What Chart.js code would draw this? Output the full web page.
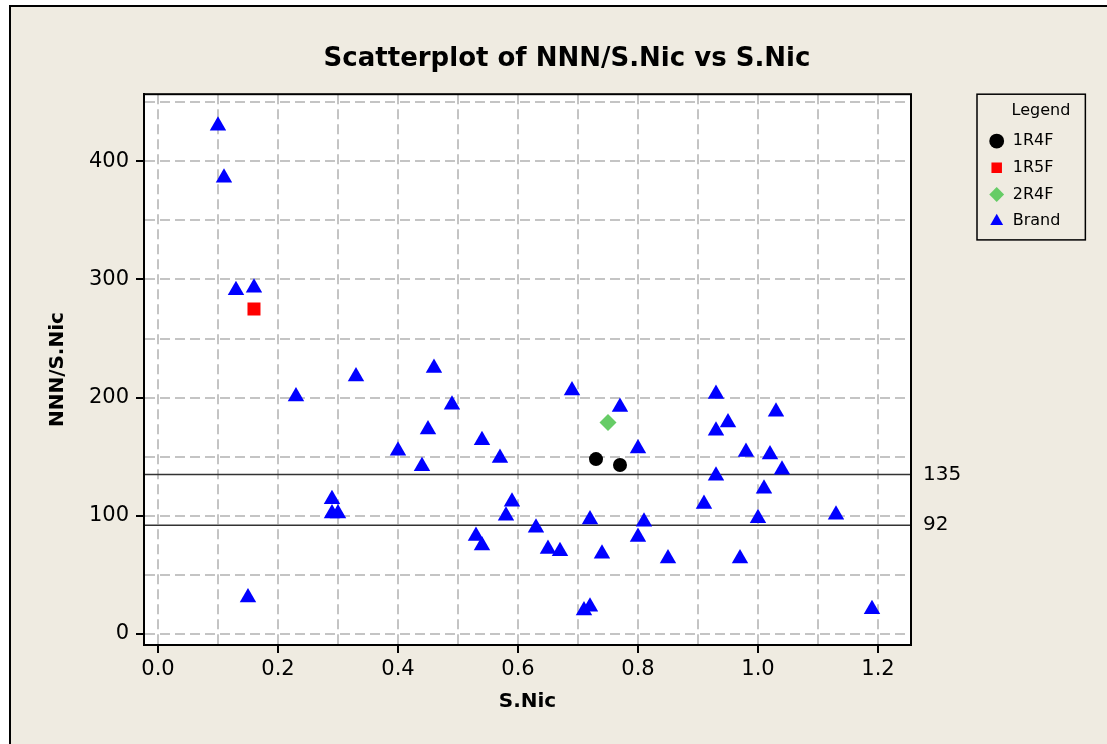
<!DOCTYPE html>
<html>
<head>
<meta charset="utf-8">
<title>Scatterplot of NNN/S.Nic vs S.Nic</title>
<script src="https://cdn.jsdelivr.net/npm/chart.js@4/dist/chart.umd.min.js"></script>
<style>
    html, body { margin: 0; padding: 0; background: #ffffff; }
    #wrap { position: relative; width: 1107px; height: 744px; }
</style>
</head>
<body>
<div id="wrap"><canvas id="scatter_chart"></canvas></div>
<script>
// series (S.Nic on x, NNN/S.Nic on y)
const seriesNames = ['1R4F', '1R5F', '2R4F', 'Brand'];

const r4fX = [0.73, 0.77];
const r4fY = [148, 143];

const r5fX = [0.16];
const r5fY = [275];

const r24fX = [0.75];
const r24fY = [179];

const brandX = [0.10, 0.11, 0.13, 0.15, 0.16, 0.23, 0.29, 0.29, 0.30, 0.33,
                0.40, 0.44, 0.45, 0.46, 0.49, 0.53, 0.54, 0.54, 0.57, 0.58,
                0.59, 0.63, 0.65, 0.67, 0.69, 0.71, 0.72, 0.72, 0.74, 0.77,
                0.80, 0.80, 0.81, 0.85, 0.91, 0.93, 0.93, 0.93, 0.95, 0.97,
                0.98, 1.00, 1.01, 1.02, 1.03, 1.04, 1.13, 1.19];
const brandY = [430, 386, 291, 31, 293, 201, 114, 102, 102, 218,
                155, 142, 173, 225, 194, 83, 75, 164, 149, 100,
                112, 90, 72, 70, 206, 20, 23, 97, 68, 192,
                157, 82, 95, 64, 110, 203, 172, 134, 179, 64,
                154, 98, 123, 152, 188, 139, 101, 21];

// reference lines
const refLines = [135, 92];

// axes
const xLabeled = [0.0, 0.2, 0.4, 0.6, 0.8, 1.0, 1.2];
const yLabeled = [0, 100, 200, 300, 400];
const xMin = -0.0233, xMax = 1.255, xStep = 0.1;
const yMin = -9.3, yMax = 456.8, yStep = 50;

const toPoints = (xs, ys) => xs.map((x, i) => ({ x: x, y: ys[i] }));
const isLabeled = (list, v) => list.some(t => Math.abs(t - v) < 1e-6);

Chart.defaults.color = '#000000';
Chart.defaults.font.family = 'DejaVu Sans';

// legend sizing, so the plot area and the legend box land where they should
const legendPad = 10.7;
const legendFontSize = 16;
const measure = document.createElement('canvas').getContext('2d');
measure.font = legendFontSize + 'px DejaVu Sans';
const legendTextWidth = Math.max(...seriesNames.map(s => measure.measureText(s).width));
const legendWidth = legendPad + legendFontSize + legendFontSize / 2 + legendTextWidth + 10;
const legendLeft = 978;
const padRight = 1107 - legendLeft - legendWidth;
const padLeft = padRight + 27;
const plotLeft = 144, plotRight = 911;

const framePlugin = {
    id: 'frame',
    beforeDraw(chart) {
        const { ctx, chartArea, width, height } = chart;
        ctx.save();
        ctx.fillStyle = '#ffffff';
        ctx.fillRect(0, 0, width, height);
        ctx.fillStyle = '#efebe1';
        ctx.fillRect(10, 6, width - 10, height - 6);
        ctx.strokeStyle = '#000000';
        ctx.lineWidth = 2;
        ctx.beginPath();
        ctx.moveTo(10, height);
        ctx.lineTo(10, 6);
        ctx.lineTo(width, 6);
        ctx.stroke();
        ctx.fillStyle = '#ffffff';
        ctx.fillRect(chartArea.left, chartArea.top, chartArea.right - chartArea.left, chartArea.bottom - chartArea.top);
        ctx.restore();
    },
    beforeDatasetsDraw(chart) {
        const { ctx, chartArea, scales } = chart;
        ctx.save();
        ctx.strokeStyle = '#333333';
        ctx.lineWidth = 1.5;
        refLines.forEach(v => {
            const py = scales.y.getPixelForValue(v);
            ctx.beginPath();
            ctx.moveTo(chartArea.left, py);
            ctx.lineTo(chartArea.right, py);
            ctx.stroke();
        });
        ctx.strokeStyle = '#000000';
        ctx.lineWidth = 2;
        ctx.strokeRect(chartArea.left, chartArea.top, chartArea.right - chartArea.left, chartArea.bottom - chartArea.top);
        ctx.restore();
    },
    afterDraw(chart) {
        const { ctx, legend } = chart;
        const boxes = legend.legendHitBoxes;
        const last = boxes[boxes.length - 1];
        const bottom = last.top + last.height + legendPad;
        ctx.save();
        ctx.strokeStyle = '#000000';
        ctx.lineWidth = 1.5;
        ctx.strokeRect(legend.left - 1, legend.top, legend.width + 16, bottom - legend.top);
        ctx.restore();
    }
};

const scatterData = {
    datasets: [
        {
            label: seriesNames[0],
            data: toPoints(r4fX, r4fY),
            pointStyle: 'circle',
            pointRadius: 7,
            backgroundColor: '#000000',
            borderColor: '#000000',
            pointBorderWidth: 0
        },
        {
            label: seriesNames[1],
            data: toPoints(r5fX, r5fY),
            pointStyle: 'rect',
            pointRadius: 9.2,
            backgroundColor: '#ff0000',
            borderColor: '#ff0000',
            pointBorderWidth: 0
        },
        {
            label: seriesNames[2],
            data: toPoints(r24fX, r24fY),
            pointStyle: 'rectRot',
            pointRadius: 8.5,
            backgroundColor: '#66cc66',
            borderColor: '#66cc66',
            pointBorderWidth: 0
        },
        {
            label: seriesNames[3],
            data: toPoints(brandX, brandY),
            pointStyle: 'triangle',
            pointRadius: 9.5,
            backgroundColor: '#0000ff',
            borderColor: '#0000ff',
            pointBorderWidth: 0
        }
    ]
};

const gridOpts = (list) => ({
    color: '#c4c4c4',
    lineWidth: 2,
    tickLength: 8,
    tickWidth: 2,
    tickColor: (c) => isLabeled(list, c.tick.value) ? '#000000' : 'rgba(0,0,0,0)'
});

const scatterConfig = {
    type: 'scatter',
    data: scatterData,
    options: {
        responsive: true,
        maintainAspectRatio: false,
        animation: false,
        events: [],
        layout: {
            padding: { left: padLeft, right: padRight, top: 0, bottom: 0 }
        },
        plugins: {
            title: {
                display: true,
                text: 'Scatterplot of NNN/S.Nic vs S.Nic',
                color: '#000000',
                font: { family: 'DejaVu Sans', size: 26, weight: 'bold' },
                padding: { top: 44, bottom: 19 }
            },
            legend: {
                position: 'right',
                align: 'start',
                fullSize: false,
                title: {
                    display: true,
                    text: 'Legend',
                    position: 'end',
                    color: '#000000',
                    font: { family: 'DejaVu Sans', size: 16 },
                    padding: { top: 9, bottom: 0 }
                },
                labels: {
                    usePointStyle: true,
                    boxWidth: legendFontSize,
                    boxHeight: 10.5,
                    padding: legendPad,
                    color: '#000000',
                    font: { family: 'DejaVu Sans', size: legendFontSize }
                }
            },
            tooltip: { enabled: false }
        },
        scales: {
            x: {
                type: 'linear',
                position: 'bottom',
                min: xMin,
                max: xMax,
                afterFit: (scale) => { scale.height = 99; },
                ticks: {
                    stepSize: xStep,
                    includeBounds: false,
                    autoSkip: false,
                    maxRotation: 0,
                    padding: 4,
                    font: { family: 'DejaVu Sans', size: 21 },
                    callback: (v) => isLabeled(xLabeled, v) ? v.toFixed(1) : ''
                },
                grid: gridOpts(xLabeled),
                border: { display: true, color: '#000000', width: 2, dash: [10, 5] },
                title: {
                    display: true,
                    text: 'S.Nic',
                    font: { family: 'DejaVu Sans', size: 20, weight: 'bold' },
                    padding: { top: 0, bottom: 30 }
                }
            },
            y: {
                type: 'linear',
                position: 'left',
                min: yMin,
                max: yMax,
                afterFit: (scale) => { scale.width = plotLeft - padLeft; },
                ticks: {
                    stepSize: yStep,
                    includeBounds: false,
                    autoSkip: false,
                    padding: 7,
                    font: { family: 'DejaVu Sans', size: 21 },
                    callback: (v) => isLabeled(yLabeled, v) ? String(v) : ''
                },
                grid: gridOpts(yLabeled),
                border: { display: true, color: '#000000', width: 2, dash: [10, 5] },
                title: {
                    display: true,
                    text: 'NNN/S.Nic',
                    font: { family: 'DejaVu Sans', size: 20, weight: 'bold' },
                    padding: { top: 57.5 - 12 - padLeft, bottom: 0 }
                }
            },
            yRef: {
                type: 'linear',
                position: 'right',
                min: yMin,
                max: yMax,
                afterFit: (scale) => { scale.width = legendLeft - plotRight; },
                afterBuildTicks: (scale) => { scale.ticks = refLines.map(v => ({ value: v })); },
                ticks: {
                    padding: 12,
                    font: { family: 'DejaVu Sans', size: 20 }
                },
                grid: { display: false, drawTicks: false, drawOnChartArea: false },
                border: { display: false }
            }
        }
    },
    plugins: [framePlugin]
};

let scatter_chart = new Chart(
    document.getElementById('scatter_chart'),
    scatterConfig
);
</script>
</body>
</html>
